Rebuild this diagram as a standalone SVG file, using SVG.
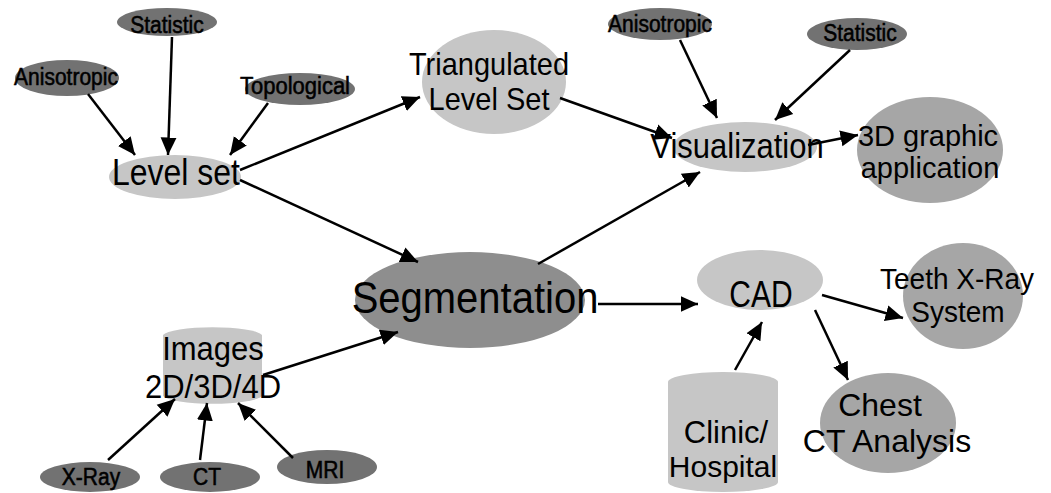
<svg xmlns="http://www.w3.org/2000/svg" width="1051" height="493" viewBox="0 0 1051 493">
<style>
text{font-family:"Liberation Sans",Arial,sans-serif;fill:#000;text-anchor:middle}
.s{font-size:21px;stroke:#000;stroke-width:0.5}
.dark{fill:#727272}
.light{fill:#c6c6c6}
.mid{fill:#a6a6a6}
.seg{fill:#8e8e8e}
.cn line{stroke:#000;stroke-width:2.5;marker-end:url(#ah)}
</style>
<defs>
<marker id="ah" markerWidth="8" markerHeight="8" refX="7" refY="4" orient="auto" markerUnits="strokeWidth">
<path d="M0,0.8 L7,4 L0,7.2 Z" fill="#000"/>
</marker>
</defs>
<rect width="1051" height="493" fill="#fff"/>
<g id="n-statistic1"><ellipse class="dark" cx="167" cy="22" rx="50" ry="14"/><text class="s" transform="translate(167,33) scale(1,1.1)">Statistic</text></g>
<g id="n-aniso1"><ellipse class="dark" cx="67" cy="78" rx="52" ry="18"/><text class="s" transform="translate(66,85) scale(1,1.1)">Anisotropic</text></g>
<g id="n-topo"><ellipse class="dark" cx="300" cy="89" rx="55" ry="16"/><text class="s" transform="translate(295,94) scale(1,1.1)" style="font-size:22px">Topological</text></g>
<g id="n-levelset"><ellipse class="light" cx="175" cy="177" rx="66" ry="22"/><text transform="translate(176,185) scale(1,1.15)" style="font-size:32px">Level set</text></g>
<g id="n-tri"><ellipse class="light" cx="494" cy="82" rx="72" ry="52"/><text transform="translate(489,75) scale(1,1.1)" style="font-size:29px">Triangulated</text><text transform="translate(489,110) scale(1,1.1)" style="font-size:29px">Level Set</text></g>
<g id="n-aniso2"><ellipse class="dark" cx="660" cy="24" rx="52" ry="16"/><text class="s" transform="translate(660,32) scale(1,1.1)">Anisotropic</text></g>
<g id="n-statistic2"><ellipse class="dark" cx="857" cy="34" rx="50" ry="16"/><text class="s" transform="translate(860,41) scale(1,1.1)">Statistic</text></g>
<g id="n-vis"><ellipse class="light" cx="745" cy="147" rx="72" ry="25"/><text transform="translate(737,158) scale(1,1.15)" style="font-size:31px">Visualization</text></g>
<g id="n-3d"><ellipse class="mid" cx="930" cy="150" rx="73" ry="53"/><text x="928" y="146" style="font-size:29px">3D graphic</text><text x="930" y="178" style="font-size:29px">application</text></g>
<g id="n-seg"><ellipse class="seg" cx="470" cy="300" rx="115" ry="48"/><text transform="translate(475,313) scale(1,1.12)" style="font-size:40px">Segmentation</text></g>
<g id="n-images"><path class="light" d="M163,335 A50,9 0 0 1 262,335 L262,396 A50,9 0 0 1 163,396 Z"/><text transform="translate(213,360) scale(1,1.1)" style="font-size:31px">Images</text><text transform="translate(213,398) scale(1,1.1)" style="font-size:31px">2D/3D/4D</text></g>
<g id="n-xray"><ellipse class="dark" cx="90" cy="477" rx="50" ry="15"/><text class="s" transform="translate(91,485) scale(1,1.1)">X-Ray</text></g>
<g id="n-ct"><ellipse class="dark" cx="210" cy="477" rx="50" ry="15"/><text class="s" transform="translate(207,485) scale(1,1.1)">CT</text></g>
<g id="n-mri"><ellipse class="dark" cx="327" cy="467" rx="50" ry="17"/><text class="s" transform="translate(325,478) scale(1,1.1)">MRI</text></g>
<g id="n-cad"><ellipse class="light" cx="760" cy="280" rx="63" ry="30"/><text transform="translate(761,307) scale(1,1.25)" style="font-size:30px">CAD</text></g>
<g id="n-teeth"><ellipse class="mid" cx="963" cy="296" rx="60" ry="53"/><text transform="translate(957,289) scale(1,1.08)" style="font-size:28px">Teeth X-Ray</text><text transform="translate(958,322) scale(1,1.08)" style="font-size:28px">System</text></g>
<g id="n-chest"><ellipse class="mid" cx="888" cy="423" rx="68" ry="50"/><text x="880" y="416" style="font-size:32px">Chest</text><text x="887" y="452" style="font-size:32px">CT Analysis</text></g>
<g id="n-clinic"><path class="light" d="M668,382 A55,10 0 0 1 778,382 L778,482 A55,10 0 0 1 668,482 Z"/><text x="726" y="443" style="font-size:31px">Clinic/</text><text x="723" y="477" style="font-size:30px">Hospital</text></g>
<g class="cn" id="connectors">
<line x1="172" y1="37" x2="168" y2="155"/>
<line x1="88" y1="94" x2="135" y2="155"/>
<line x1="268" y1="103" x2="230" y2="155"/>
<line x1="240" y1="170" x2="420" y2="97"/>
<line x1="240" y1="180" x2="418" y2="262"/>
<line x1="560" y1="98" x2="672" y2="138"/>
<line x1="680" y1="40" x2="717" y2="118"/>
<line x1="850" y1="50" x2="775" y2="120"/>
<line x1="538" y1="264" x2="700" y2="172"/>
<line x1="808" y1="145" x2="858" y2="135"/>
<line x1="598" y1="304" x2="698" y2="304"/>
<line x1="263" y1="375" x2="398" y2="332"/>
<line x1="108" y1="460" x2="175" y2="399"/>
<line x1="200" y1="460" x2="207" y2="403"/>
<line x1="293" y1="458" x2="238" y2="403"/>
<line x1="822" y1="295" x2="903" y2="318"/>
<line x1="815" y1="310" x2="848" y2="380"/>
<line x1="735" y1="370" x2="762" y2="322"/>
</g>
</svg>
